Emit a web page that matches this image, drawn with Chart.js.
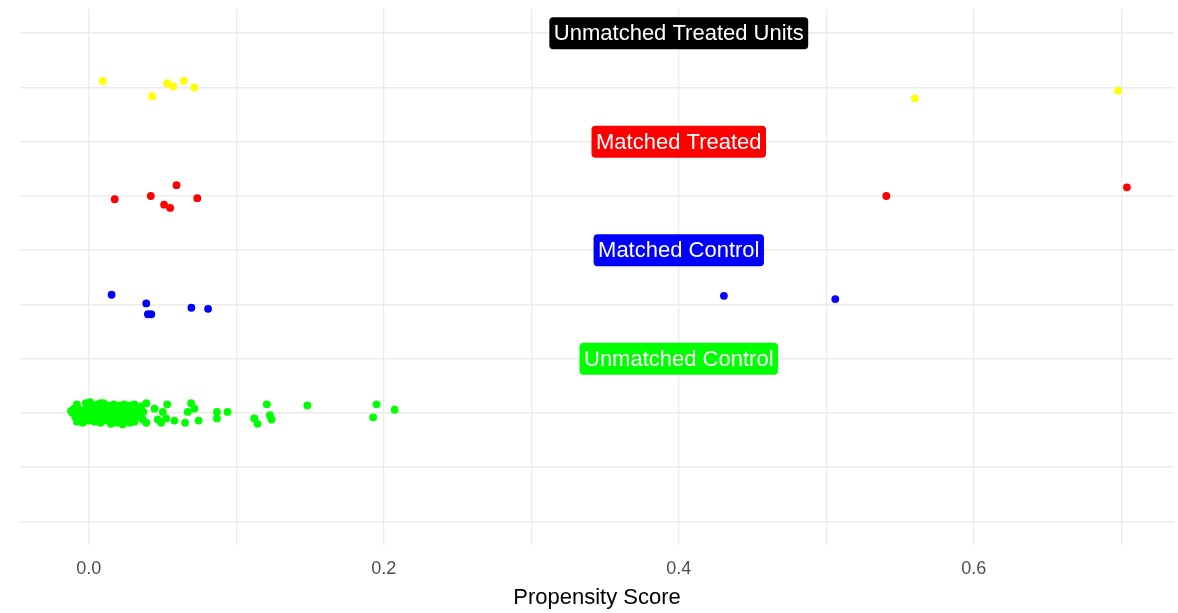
<!DOCTYPE html>
<html>
<head>
<meta charset="utf-8">
<script src="https://cdn.jsdelivr.net/npm/chart.js@4/dist/chart.umd.min.js"></script>
<style>
  html, body { margin: 0; padding: 0; background: #ffffff; }
  #wrap { width: 1178px; height: 613px; position: relative; }
</style>
</head>
<body>
<div id="wrap"><canvas id="chart-propensity"></canvas></div>
<script>
// propensity score (x) and jittered group position (y)
const unmatchedTreated = [
  [0.0095, 4.06], [0.0430, 3.92], [0.0532, 4.04], [0.0572, 4.01],
  [0.0644, 4.06], [0.0716, 4.00], [0.5601, 3.90], [0.6978, 3.97]
];
const matchedTreated = [
  [0.0176, 2.97], [0.0421, 3.00], [0.0511, 2.92], [0.0552, 2.89],
  [0.0595, 3.10], [0.0736, 2.98], [0.5407, 3.00], [0.7038, 3.08]
];
const matchedControl = [
  [0.0155, 2.09], [0.0390, 2.01], [0.0401, 1.91], [0.0424, 1.91],
  [0.0696, 1.97], [0.0809, 1.96], [0.4306, 2.08], [0.5061, 2.05]
];
const unmatchedControl = [
  // dense cluster near zero
  [-0.008, 1.08], [-0.002, 1.09], [0.003, 1.07], [0.006, 1.08], [0.010, 1.09], [0.013, 1.07],
  [0.017, 1.08], [0.021, 1.07], [0.024, 1.08], [0.028, 1.07], [0.031, 1.08],
  [-0.010, 1.04], [-0.006, 1.03], [-0.001, 1.05], [0.002, 1.04], [0.005, 1.03], [0.009, 1.05],
  [0.012, 1.04], [0.016, 1.03], [0.019, 1.05], [0.022, 1.04], [0.026, 1.03], [0.029, 1.04], [0.033, 1.05],
  [-0.011, 1.00], [-0.007, 0.99], [-0.003, 1.01], [0.001, 1.00], [0.004, 0.99], [0.007, 1.01],
  [0.011, 1.00], [0.014, 0.99], [0.018, 1.01], [0.021, 1.00], [0.025, 0.99], [0.027, 1.01],
  [0.030, 1.00], [0.034, 0.99],
  [-0.009, 0.96], [-0.005, 0.95], [-0.001, 0.97], [0.003, 0.96], [0.006, 0.95], [0.009, 0.97],
  [0.013, 0.96], [0.016, 0.95], [0.020, 0.97], [0.023, 0.96], [0.026, 0.95], [0.029, 0.97], [0.032, 0.96],
  [-0.008, 0.92], [-0.004, 0.91], [0.000, 0.93], [0.004, 0.92], [0.008, 0.91], [0.011, 0.93],
  [0.015, 0.92], [0.019, 0.91], [0.022, 0.93], [0.025, 0.92], [0.028, 0.91], [0.031, 0.92],
  [0.0355, 1.06], [0.0365, 0.94], [0.037, 1.01], [-0.012, 1.02], [0.001, 1.10], [0.008, 1.09],
  [0.015, 0.90], [0.023, 0.895],
  // spread toward 0.2
  [0.0390, 1.09], [0.0446, 1.04], [0.0390, 0.91], [0.0468, 0.94], [0.0491, 0.91], [0.0532, 1.08],
  [0.0502, 1.01], [0.0525, 0.95], [0.0581, 0.93], [0.0653, 0.91], [0.0671, 1.01], [0.0694, 1.09],
  [0.0716, 1.04], [0.0745, 0.93], [0.0869, 1.01], [0.0869, 0.95], [0.0941, 1.01], [0.1122, 0.95],
  [0.1144, 0.90], [0.1207, 1.08], [0.1228, 0.98], [0.1239, 0.94], [0.1482, 1.07], [0.1928, 0.96],
  [0.1951, 1.08], [0.2074, 1.03]
];

const groupColors = ['#ffff00', '#ff0000', '#0000ff', '#00ff00'];

// group annotations
const labelTexts = ['Unmatched Treated Units', 'Matched Treated', 'Matched Control', 'Unmatched Control'];
const labelX = [0.4, 0.4, 0.4, 0.4];
const labelY = [4.5, 3.5, 2.5, 1.5];
const labelFills = ['#000000', '#ff0000', '#0000ff', '#00ff00'];

const xTickValues = [0, 0.1, 0.2, 0.3, 0.4, 0.5, 0.6, 0.7];
const xTickLabels = { 0: '0.0', 0.2: '0.2', 0.4: '0.4', 0.6: '0.6' };
const yGridValues = [0, 0.5, 1, 1.5, 2, 2.5, 3, 3.5, 4, 4.5];

const FONT = '"Liberation Sans", Arial, sans-serif';

function toPoints(rows) {
  return rows.map(([x, y]) => ({ x, y }));
}

const groupLabels = {
  id: 'groupLabels',
  afterDatasetsDraw(chart) {
    const { ctx, scales } = chart;
    ctx.save();
    ctx.font = `22px ${FONT}`;
    ctx.textAlign = 'center';
    ctx.textBaseline = 'middle';
    labelTexts.forEach((text, i) => {
      const cx = scales.x.getPixelForValue(labelX[i]);
      const cy = scales.y.getPixelForValue(labelY[i]);
      const w = ctx.measureText(text).width + 9;
      const h = 32;
      ctx.fillStyle = labelFills[i];
      ctx.beginPath();
      ctx.roundRect(cx - w / 2, cy - h / 2, w, h, 4);
      ctx.fill();
      ctx.fillStyle = '#ffffff';
      ctx.fillText(text, cx, cy + 1);
    });
    ctx.restore();
  }
};

const datasets = [unmatchedTreated, matchedTreated, matchedControl, unmatchedControl].map((rows, i) => ({
  label: labelTexts[i],
  data: toPoints(rows),
  backgroundColor: groupColors[i],
  borderColor: groupColors[i],
  borderWidth: 0,
  pointRadius: 3.9,
  pointHoverRadius: 3.9
}));

new Chart(document.getElementById('chart-propensity'), {
  type: 'scatter',
  data: { datasets },
  options: {
    responsive: true,
    maintainAspectRatio: false,
    animation: false,
    layout: { padding: { left: 20, top: 9, right: 0, bottom: 0 } },
    scales: {
      x: {
        type: 'linear',
        min: -0.0466,
        max: 0.7358,
        afterBuildTicks: (scale) => { scale.ticks = xTickValues.map((value) => ({ value })); },
        afterFit: (scale) => { scale.height = 68; },
        border: { display: false },
        grid: { color: '#ebebeb', lineWidth: 1.3, drawTicks: false },
        ticks: {
          padding: 13,
          color: '#4d4d4d',
          font: { family: FONT, size: 18 },
          maxRotation: 0,
          autoSkip: false,
          callback: (value) => xTickLabels[value] ?? ''
        },
        title: {
          display: true,
          text: 'Propensity Score',
          color: '#000000',
          font: { family: FONT, size: 22 },
          padding: { top: 0, bottom: 2 }
        }
      },
      y: {
        type: 'linear',
        min: -0.2166,
        max: 4.7235,
        afterBuildTicks: (scale) => { scale.ticks = yGridValues.map((value) => ({ value })); },
        afterFit: (scale) => { scale.width = 0; },
        border: { display: false },
        grid: { color: '#ebebeb', lineWidth: 1.6, drawTicks: false },
        ticks: { display: false }
      }
    },
    plugins: {
      legend: { display: false },
      tooltip: { enabled: false }
    }
  },
  plugins: [groupLabels]
});
</script>
</body>
</html>
